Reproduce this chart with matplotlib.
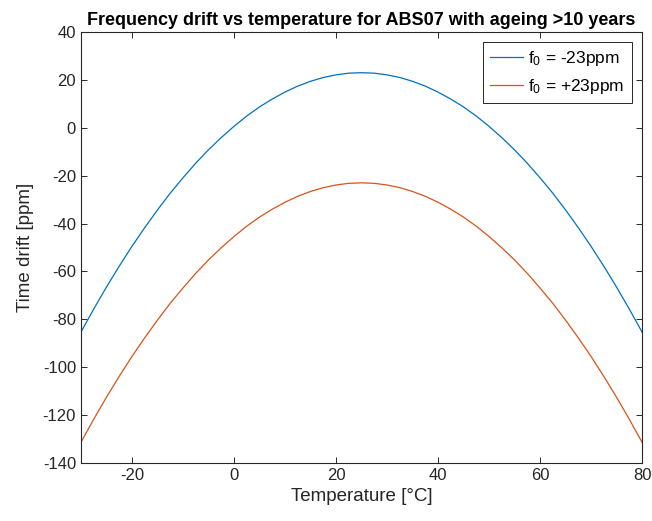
import numpy as np
import matplotlib.pyplot as plt

# temperatura en grados C, cada 2.5 grados
temp = [-30, -27.5, -25, -22.5, -20, -17.5, -15, -12.5, -10, -7.5, -5, -2.5,
        0, 2.5, 5, 7.5, 10, 12.5, 15, 17.5, 20, 22.5, 25, 27.5,
        30, 32.5, 35, 37.5, 40, 42.5, 45, 47.5, 50, 52.5, 55, 57.5,
        60, 62.5, 65, 67.5, 70, 72.5, 75, 77.5, 80]

# deriva (ppm)
deriva_a = [-85.3, -75.7, -66.5, -57.8, -49.5, -41.7, -34.3, -27.3, -20.9, -14.8, -9.2, -4.1,
            0.6, 4.9, 8.7, 12.0, 14.9, 17.4, 19.4, 21.0, 22.1, 22.8, 23.0, 22.8,
            22.1, 21.0, 19.4, 17.4, 14.9, 12.0, 8.7, 4.9, 0.6, -4.1, -9.2, -14.8,
            -20.9, -27.3, -34.3, -41.7, -49.5, -57.8, -66.5, -75.7, -85.3]
deriva_b = [-131.3, -121.7, -112.5, -103.8, -95.5, -87.7, -80.3, -73.3, -66.9, -60.8, -55.2, -50.1,
            -45.4, -41.1, -37.3, -34.0, -31.1, -28.6, -26.6, -25.0, -23.9, -23.2, -23.0, -23.2,
            -23.9, -25.0, -26.6, -28.6, -31.1, -34.0, -37.3, -41.1, -45.4, -50.1, -55.2, -60.8,
            -66.9, -73.3, -80.3, -87.7, -95.5, -103.8, -112.5, -121.7, -131.3]

etiquetas = ['$\\mathregular{f_0}$ = -23ppm', '$\\mathregular{f_0}$ = +23ppm']

plt.rcParams['font.family'] = ['Liberation Sans', 'DejaVu Sans']
plt.rcParams['axes.unicode_minus'] = False
gris = '#262626'

fig = plt.figure(figsize=(6.52, 5.21), dpi=100)
ax = fig.add_axes([0.1242, 0.1113, 0.8605, 0.8273])

ax.plot(temp, deriva_a, color='#0072BD', lw=0.9, label=etiquetas[0])
ax.plot(temp, deriva_b, color='#D95319', lw=0.9, label=etiquetas[1])

ax.set_xlim(-30, 80)
ax.set_ylim(-140, 40)
ax.set_xticks([-20, 0, 20, 40, 60, 80])
ax.set_yticks(np.arange(-140, 41, 20))
ax.tick_params(direction='in', top=True, right=True, labelsize=12,
               colors=gris, length=4, width=0.7)
for s in ax.spines.values():
    s.set_color(gris)
    s.set_linewidth(0.8)

ax.set_title('Frequency drift vs temperature for ABS07 with ageing >10 years',
             fontsize=13, fontweight='bold', color='black', pad=5)
ax.set_xlabel('Temperature [°C]', fontsize=13.5, color=gris)
ax.set_ylabel('Time drift [ppm]', fontsize=13.5, color=gris, labelpad=6)

leg = ax.legend(loc='upper right', fontsize=12.5, fancybox=False, framealpha=1,
                edgecolor=gris, handlelength=1.9, handletextpad=0.3,
                borderaxespad=0.6)
leg.get_frame().set_linewidth(0.7)

plt.savefig('out.png', dpi=100)
